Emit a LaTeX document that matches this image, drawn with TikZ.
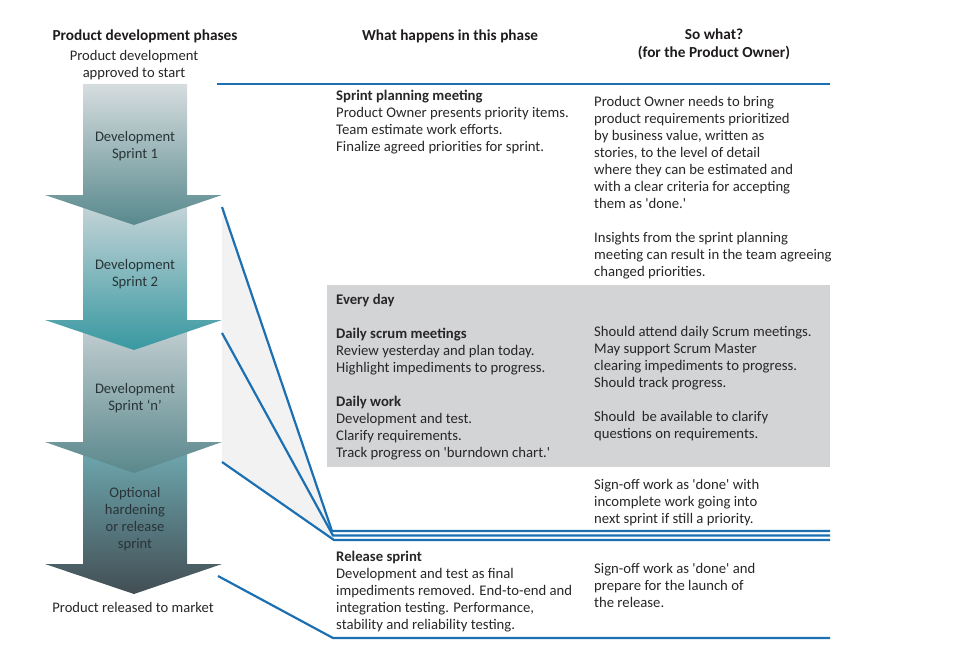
\documentclass[tikz,border=0pt]{standalone}
\usepackage{fontspec}
\setmainfont{Carlito}
\usetikzlibrary{positioning,calc}

\definecolor{linkblue}{RGB}{28,112,178}
\definecolor{boxgray}{RGB}{211,212,214}
\definecolor{fangray}{RGB}{242,242,242}
\definecolor{txtgray}{RGB}{40,38,38}
\definecolor{hdrblack}{RGB}{30,27,28}
\definecolor{arrtxt}{RGB}{40,52,56}
\definecolor{arrAtop}{RGB}{214,221,223}
\definecolor{arrAbot}{RGB}{88,137,141}
\definecolor{arrBtop}{RGB}{206,216,219}
\definecolor{arrBbot}{RGB}{56,152,161}
\definecolor{arrCtop}{RGB}{198,209,212}
\definecolor{arrCbot}{RGB}{90,136,140}
\definecolor{arrDtop}{RGB}{112,172,180}
\definecolor{arrDbot}{RGB}{66,78,84}

\newcommand{\sq}{\textquotesingle}

\tikzset{
  hdr/.style={align=center, inner sep=0pt, text=hdrblack, font=\fontsize{15.3}{18}\selectfont\bfseries},
  txt/.style={anchor=north west, align=left, inner sep=0pt, text=txtgray,
    font=\fontsize{14.7}{17}\selectfont, execute at begin node=\strut},
  sprintlbl/.style={align=center, inner sep=0pt, text=arrtxt, font=\fontsize{14.6}{17}\selectfont},
  link/.style={draw=linkblue, line width=2.2pt, line join=miter},
}

\begin{document}
\begin{tikzpicture}[x=1pt, y=-1pt]
    \useasboundingbox (0,0) rectangle (956,661);
    % phase arrows, drawn bottom up so each head lies over the next shaft
    \foreach \ytop/\ybase/\ytip/\ctop/\cbot in {442/564/594/arrDtop/arrDbot, 320/442/473/arrCtop/arrCbot, 195/320/350/arrBtop/arrBbot, 84/195/225/arrAtop/arrAbot}
        \shade[top color=\ctop, bottom color=\cbot] (83,\ytop) -- (187,\ytop) -- (187,\ybase) -- (222,\ybase) -- (134,\ytip) -- (45,\ybase) -- (83,\ybase) -- cycle;

    \node[sprintlbl] (sp1) at (135,146.5) {Development\\Sprint 1};
    \node[sprintlbl] (sp2) at (135,274.5) {Development\\Sprint 2};
    \node[sprintlbl] (spn) at (135,398.5) {Development\\Sprint ‘n’};
    \node[sprintlbl] (sphard) at (135,519.5) {Optional\\hardening\\or release\\sprint};

    % headings
    \node[hdr] (hphases) at (145,36) {Product development phases};
    \node[hdr] (hwhat) at (450,36) {What happens in this phase};
    \node[hdr] (hsowhat) at (714,44.5) {So what?\\(for the Product Owner)};
    \node[sprintlbl, text=txtgray] (start) at (134,65.5) {Product development\\approved to start};
    \node[sprintlbl, text=txtgray] (market) at (133,607) {Product released to market};

    % shaded band and every-day box
    \fill[fangray] (222,207) -- (332,531) -- (334,540) -- (222,462) -- cycle;
    \fill[boxgray] (327,285) rectangle (830,467);

    % table texts
    \node[txt] (splan) at (336,90) {\textbf{Sprint planning meeting}\\Product Owner presents priority items.\\Team estimate work efforts.\\Finalize agreed priorities for sprint.};
    \node[txt] (poplan) at (594,96) {Product Owner needs to bring\\product requirements prioritized\\by business value, written as\\stories, to the level of detail\\where they can be estimated and\\with a clear criteria for accepting\\them as \sq done.\sq\\[17pt]Insights from the sprint planning\\meeting can result in the team agreeing\\changed priorities.};
    \node[txt] (everyday) at (336,294) {\textbf{Every day}\\[17pt]\textbf{Daily scrum meetings}\\Review yesterday and plan today.\\Highlight impediments to progress.\\[17pt]\textbf{Daily work}\\Development and test.\\Clarify requirements.\\Track progress on \sq burndown chart.\sq};
    \node[txt] (podaily) at (594,326) {Should attend daily Scrum meetings.\\May support Scrum Master\\clearing impediments to progress.\\Should track progress.\\[17pt]Should\ \ be available to clarify\\questions on requirements.};
    \node[txt] (posignoff) at (594,479) {Sign-off work as \sq done\sq{} with\\incomplete work going into\\next sprint if still a priority.};
    \node[txt] (release) at (336,551) {\textbf{Release sprint}\\Development and test as final\\impediments removed. End-to-end and\\integration testing. Performance,\\stability and reliability testing.};
    \node[txt] (porelease) at (594,563) {Sign-off work as \sq done\sq{} and\\prepare for the launch of\\the release.};

    % connector lines
    \coordinate (top0) at (217,84);
    \coordinate (top1) at (830,84);
    \coordinate (from1) at (222,207);
    \coordinate (from2) at (222,333);
    \coordinate (from3) at (222,462);
    \coordinate (from4) at (218,576);
    \coordinate (knee1) at (332,531);
    \coordinate (knee2) at (333,535.5);
    \coordinate (knee3) at (334,540);
    \coordinate (knee4) at (333,638);
    \draw[link] (top0) -- (top1);
    \draw[link] (from1) -- (knee1) -- (knee1 -| top1);
    \draw[link] (from2) -- (knee2) -- (knee2 -| top1);
    \draw[link] (from3) -- (knee3) -- (knee3 -| top1);
    \draw[link] (from4) -- (knee4) -- (knee4 -| top1);
\end{tikzpicture}
\end{document}
